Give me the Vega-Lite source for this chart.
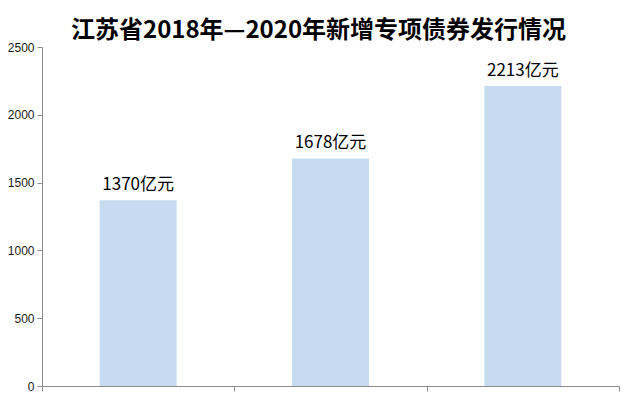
{
  "$schema": "https://vega.github.io/schema/vega-lite/v6.json",
  "autosize": "none",
  "width": 577,
  "height": 339,
  "padding": {"left": 42, "top": 47, "right": 21, "bottom": 18},
  "background": "white",
  "title": {
    "text": "江苏省2018年—2020年新增专项债券发行情况",
    "font": "Noto Sans CJK SC",
    "fontSize": 24,
    "fontWeight": "bold",
    "color": "#000000",
    "anchor": "middle",
    "frame": "group",
    "dx": -12,
    "offset": -2
  },
  "data": {
    "values": [
      {"year": "2018", "value": 1370, "label": "1370亿元"},
      {"year": "2019", "value": 1678, "label": "1678亿元"},
      {"year": "2020", "value": 2213, "label": "2213亿元"}
    ]
  },
  "encoding": {
    "x": {
      "field": "year",
      "type": "ordinal",
      "scale": {"paddingInner": 0, "paddingOuter": 0},
      "axis": {
        "title": null,
        "labels": false,
        "tickBand": "extent",
        "domainColor": "#8c8c8c",
        "tickColor": "#8c8c8c",
        "tickSize": 5
      }
    },
    "y": {
      "field": "value",
      "type": "quantitative",
      "scale": {"domain": [0, 2500]},
      "axis": {
        "title": null,
        "values": [0, 500, 1000, 1500, 2000, 2500],
        "format": "d",
        "grid": false,
        "domainColor": "#8c8c8c",
        "tickColor": "#8c8c8c",
        "tickSize": 5,
        "labelFont": "Liberation Sans",
        "labelFontSize": 12,
        "labelColor": "#1a1a1a",
        "labelPadding": 3
      }
    }
  },
  "layer": [
    {"mark": {"type": "bar", "color": "#c6dbef", "width": {"band": 0.4}}},
    {
      "mark": {
        "type": "text",
        "baseline": "bottom",
        "dy": -6,
        "font": "Noto Sans CJK SC",
        "fontSize": 17,
        "color": "#000000"
      },
      "encoding": {"text": {"field": "label"}}
    }
  ],
  "config": {"view": {"stroke": null}}
}
